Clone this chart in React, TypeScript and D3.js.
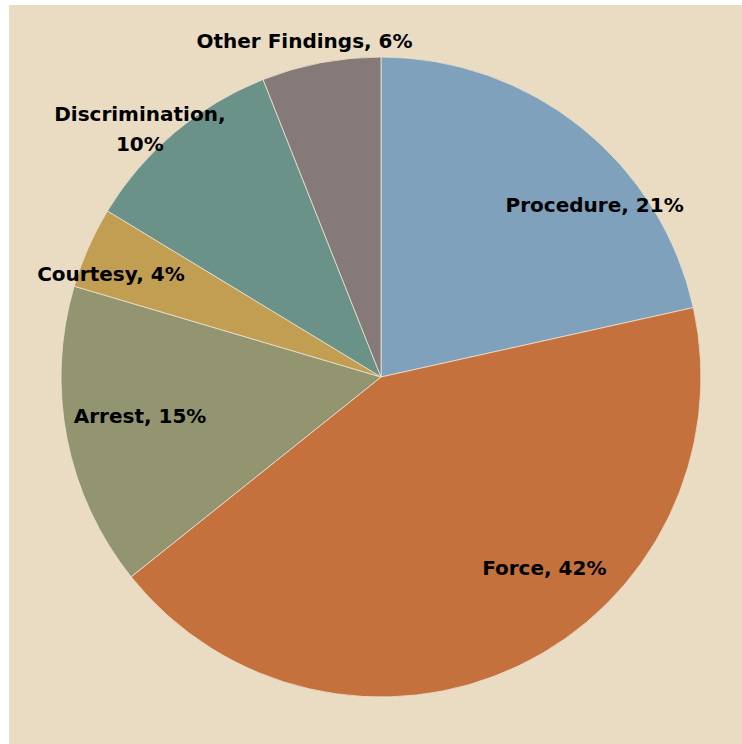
import React from "react";
import * as d3 from "d3";

const categories = ["Procedure", "Force", "Arrest", "Courtesy", "Discrimination", "Other Findings"];
const shares = [21.5, 42.7, 15.3, 4.1, 10.3, 6.0];
const percentLabels = ["21%", "42%", "15%", "4%", "10%", "6%"];
const colors = ["#7FA1BC", "#C5713E", "#929570", "#C19E52", "#6A9289", "#857A78"];

// label placement: angle shift (deg) from slice mid-angle, radius (px), line-break flag
const labelShift = [12.5, -15, 2, -3, -4, -2];
const labelRadius = [274, 251, 244, 289, 346, 345];
const labelWrap = [false, false, false, false, true, false];

const W = 742;
const H = 744;
const cx = 381;
const cy = 377;
const R = 320;

export default function App() {
  const pie = d3.pie<number>().sort(null).value((d) => d)(shares);
  const arc = d3.arc<d3.PieArcDatum<number>>().innerRadius(0).outerRadius(R);
  const fontSize = 20;
  return (
    <svg width={W} height={H} style={{ position: "absolute", left: 0, top: 0 }}>
      <rect x={9} y={5} width={W - 9} height={H - 5} fill="#E9DCC3" />
      <g transform={`translate(${cx},${cy})`}>
        {pie.map((p, i) => (
          <path key={i} d={arc(p) || ""} fill={colors[i]} stroke="#EDE3D0" strokeWidth={0.8} />
        ))}
        {pie.map((p, i) => {
          const mid = (p.startAngle + p.endAngle) / 2 + (labelShift[i] * Math.PI) / 180;
          const r = labelRadius[i];
          const x = r * Math.sin(mid);
          const y = -r * Math.cos(mid);
          const lines = labelWrap[i]
            ? [categories[i] + ",", percentLabels[i]]
            : [categories[i] + ", " + percentLabels[i]];
          const lh = 30;
          return (
            <text
              key={"t" + i}
              x={x}
              textAnchor="middle"
              fontFamily="'DejaVu Sans', sans-serif"
              fontWeight={700}
              fontSize={fontSize}
              fill="#000"
            >
              {lines.map((l, j) => (
                <tspan key={j} x={x} y={y + 7 + (j - (lines.length - 1) / 2) * lh}>
                  {l}
                </tspan>
              ))}
            </text>
          );
        })}
      </g>
    </svg>
  );
}
